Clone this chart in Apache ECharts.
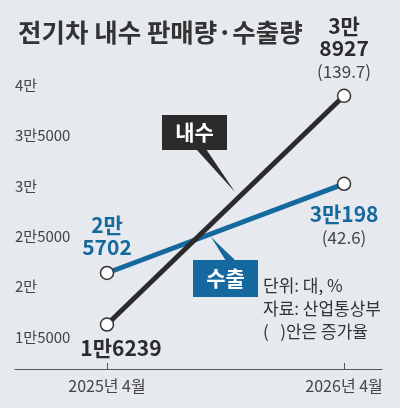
<!DOCTYPE html>
<html>
<head>
<meta charset="utf-8">
<script src="https://cdn.jsdelivr.net/npm/echarts@6/dist/echarts.min.js"></script>
<style>
html, body { margin: 0; padding: 0; background: #e6eaee; }
#chart { width: 400px; height: 408px; }
</style>
</head>
<body>
<div id="chart"></div>
<script>
// 데이터
const months = ['2025년 4월', '2026년 4월'];
const domestic = [16239, 38927];
const exportVals = [21350, 30198];   // 그림에 찍힌 위치 기준
const domesticLabels = ['1만6239', '3만\n8927'];
const domesticRates = ['', '(139.7)'];
const exportLabels = ['2만\n5702', '3만198'];
const exportRates = ['', '(42.6)'];
const yTicks = [15000, 20000, 25000, 30000, 35000, 40000];
const yTickLabels = ['1만5000', '2만', '2만5000', '3만', '3만5000', '4만'];
const notes = ['단위: 대, %', '자료: 산업통상부', '(   )안은 증가율'];

const FONT = 'Noto Sans CJK KR';
const DARK = '#2b2b2b';
const BLUE = '#15699f';

const chart = echarts.init(document.getElementById('chart'));

function labelText(lbl, rate) {
  let s = lbl.split('\n').map(t => '{b|' + t + '}').join('\n');
  if (rate) s += '\n{p|' + rate + '}';
  return s;
}

function richStyle(color) {
  return {
    b: { fontFamily: FONT, fontSize: 21, fontWeight: 'bold', color: color, lineHeight: 22 },
    p: { fontFamily: FONT, fontSize: 17, color: '#444', lineHeight: 25 }
  };
}

// 각 점의 라벨 위치
const domesticPos = [
  { position: 'bottom', distance: 5, offset: [14, 0] },
  { position: 'top', distance: 5 }
];
const exportPos = [
  { position: 'top', distance: 8 },
  { position: 'bottom', distance: 12 }
];

function buildData(vals, labels, rates, pos, color) {
  return vals.map((v, i) => ({
    value: [i, v],
    label: Object.assign({
      show: true,
      formatter: labelText(labels[i], rates[i]),
      rich: richStyle(color)
    }, pos[i])
  }));
}

const lineSeries = (name, data, color) => ({
  name: name,
  type: 'line',
  data: data,
  symbol: 'circle',
  symbolSize: 13,
  lineStyle: { color: color, width: 5 },
  itemStyle: { color: '#fff', borderColor: '#333', borderWidth: 1.5 },
  emphasis: { disabled: true },
  animation: false
});

chart.setOption({
  backgroundColor: '#e6eaee',
  title: {
    text: '전기차 내수 판매량·수출량',
    left: 13,
    top: 15,
    textStyle: { fontFamily: FONT, fontSize: 25.5, fontWeight: 'bold', color: '#333' }
  },
  grid: { left: 15, right: 18, top: 85, bottom: 39 },
  xAxis: {
    type: 'value',
    min: -0.388,
    max: 1.16,
    splitLine: { show: false },
    axisLine: { show: true, lineStyle: { color: '#555', width: 1 } },
    axisTick: { show: true, inside: true, length: 6, customValues: [0, 1], lineStyle: { color: '#555' } },
    axisLabel: {
      customValues: [0, 1],
      formatter: v => months[Math.round(v)],
      fontFamily: FONT, fontSize: 16, color: '#444', margin: 9
    }
  },
  yAxis: {
    type: 'value',
    min: 11825,
    max: 40000,
    splitLine: { show: false },
    axisLine: { show: false },
    axisTick: { show: false },
    axisLabel: {
      inside: true,
      margin: 0,
      customValues: yTicks,
      formatter: v => yTickLabels[yTicks.indexOf(v)],
      fontFamily: FONT, fontSize: 15, color: '#444'
    }
  },
  series: [
    lineSeries('수출', buildData(exportVals, exportLabels, exportRates, exportPos, BLUE), BLUE),
    lineSeries('내수', buildData(domestic, domesticLabels, domesticRates, domesticPos, DARK), DARK)
  ],
  graphic: [
    // 내수 말풍선
    { type: 'polygon', shape: { points: [[196, 149], [206, 149], [235, 192]] }, style: { fill: DARK } },
    { type: 'rect', shape: { x: 162, y: 115, width: 65, height: 35 }, style: { fill: DARK } },
    { type: 'text', x: 194.5, y: 132.5, style: { text: '내수', fill: '#fff', font: 'bold 21px "' + FONT + '"', align: 'center', verticalAlign: 'middle' } },
    // 수출 말풍선
    { type: 'polygon', shape: { points: [[211, 237], [226, 261], [236, 261]] }, style: { fill: BLUE } },
    { type: 'rect', shape: { x: 193, y: 260, width: 65, height: 37 }, style: { fill: BLUE } },
    { type: 'text', x: 225.5, y: 278.5, style: { text: '수출', fill: '#fff', font: 'bold 21px "' + FONT + '"', align: 'center', verticalAlign: 'middle' } },
    // 주석
    ...notes.map((t, i) => ({
      type: 'text', x: 263, y: 286 + i * 23,
      style: { text: t, fill: '#333', font: '17px "' + FONT + '"', verticalAlign: 'middle' }
    }))
  ]
});
</script>
</body>
</html>
